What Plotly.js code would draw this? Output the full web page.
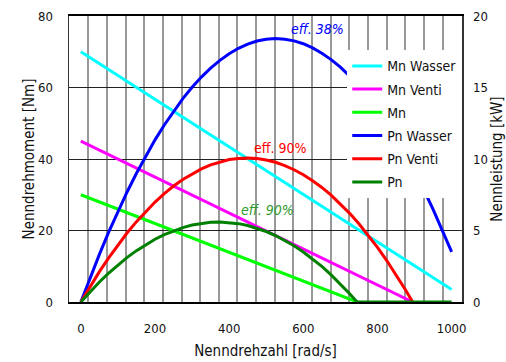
<!DOCTYPE html>
<html>
<head>
<meta charset="utf-8">
<script src="https://cdn.plot.ly/plotly-3.0.1.min.js"></script>
<style>html,body{margin:0;padding:0;background:#fff;}#chart{width:506px;height:362px;}</style>
</head>
<body>
<div id="chart"></div>
<script>
// Speeds (rad/s) and values
const mnWasserX = [0, 1000];
const mnWasserY = [70, 3.5];
const mnVentiX = [0, 895];
const mnVentiY = [45, 0];
const mnX = [0, 745];
const mnY = [30, 0];

const pnWasserX = [0, 25, 50, 75, 100, 125, 150, 175, 200, 225, 250, 275, 300, 325, 350, 375, 400, 425, 450, 475, 500,
  525, 550, 575, 600, 625, 650, 675, 700, 725, 750, 775, 800, 825, 850, 875, 900, 925, 950, 975, 1000];
const pnWasserY = [0, 1.71, 3.33, 4.88, 6.34, 7.71, 9.00, 10.21, 11.34, 12.38, 13.34, 14.22, 15.02, 15.73, 16.35, 16.90, 17.36, 17.74, 18.03, 18.25, 18.38,
  18.42, 18.38, 18.26, 18.06, 17.77, 17.40, 16.95, 16.42, 15.80, 15.09, 14.31, 13.44, 12.49, 11.45, 10.34, 9.14, 7.85, 6.48, 5.03, 3.50];

const pnVentiX = [0, 25, 50, 75, 100, 125, 150, 175, 200, 225, 250, 275, 300, 325, 350, 375, 400, 425, 450, 475, 500,
  525, 550, 575, 600, 625, 650, 675, 700, 725, 750, 775, 800, 825, 850, 875, 895];
const pnVentiY = [0, 1.09, 2.12, 3.09, 4.00, 4.84, 5.62, 6.34, 6.99, 7.58, 8.11, 8.57, 8.97, 9.31, 9.59, 9.80, 9.96, 10.04, 10.07, 10.03, 9.93,
  9.77, 9.54, 9.25, 8.90, 8.48, 8.01, 7.47, 6.86, 6.20, 5.47, 4.68, 3.82, 2.90, 1.92, 0.88, 0];

const pnX = [0, 25, 50, 75, 100, 125, 150, 175, 200, 225, 250, 275, 300, 325, 350, 375, 400, 425, 450, 475, 500,
  525, 550, 575, 600, 625, 650, 675, 700, 725, 745, 1000];
const pnY = [0, 0.72, 1.40, 2.02, 2.60, 3.12, 3.59, 4.02, 4.39, 4.71, 4.98, 5.20, 5.38, 5.50, 5.57, 5.59, 5.56, 5.48, 5.35, 5.16, 4.93,
  4.65, 4.32, 3.94, 3.50, 3.02, 2.49, 1.90, 1.27, 0.58, 0, 0];

const xTicks = [0, 200, 400, 600, 800, 1000];
const yLeftTicks = [0, 20, 40, 60, 80];
const yRightTicks = [0, 5, 10, 15, 20];

const effLabels = ['<i>eff. 38%</i>', 'eff. 90%', '<i>eff. 90%</i>'];
const effX = [637, 537, 504];
const effY = [76.4, 43.2, 25.7];
const effColors = ['#0000ff', '#ff0000', '#2e9a2e'];

const FONT = '"Liberation Sans Narrow", "DejaVu Sans Condensed", Arial, sans-serif';

function tr(name, x, y, color, axis, group) {
  return {
    type: 'scatter', mode: 'lines', name: name, x: x, y: y,
    yaxis: axis, legendgroup: group,
    line: {color: color, width: 3}
  };
}

const data = [
  tr('Mn Wasser', mnWasserX, mnWasserY, '#00ffff', 'y', 'a'),
  tr('Mn Venti', mnVentiX, mnVentiY, '#ff00ff', 'y', 'b'),
  tr('Mn', mnX, mnY, '#00ff00', 'y', 'c'),
  tr('Pn Wasser', pnWasserX, pnWasserY, '#0000ff', 'y2', 'd'),
  tr('Pn Venti', pnVentiX, pnVentiY, '#ff0000', 'y2', 'e'),
  tr('Pn', pnX, pnY, '#008000', 'y2', 'f')
];

const annotations = effLabels.map((t, i) => ({
  text: t, x: effX[i], y: effY[i], xref: 'x', yref: 'y', showarrow: false,
  font: {family: FONT, size: 14, color: effColors[i]}
}));

const layout = {
  width: 506, height: 362,
  margin: {l: 69, r: 44, t: 16, b: 60},
  paper_bgcolor: '#ffffff', plot_bgcolor: '#ffffff',
  font: {family: FONT, size: 13, color: '#111'},
  showlegend: true,
  legend: {
    x: 0.708, y: 0.88, xanchor: 'left', yanchor: 'top',
    bgcolor: '#ffffff', borderwidth: 0,
    font: {family: FONT, size: 14, color: '#111'},
    tracegroupgap: 2, itemwidth: 30
  },
  xaxis: {
    range: [-32, 1028], tickvals: xTicks, ticktext: xTicks.map(String),
    showgrid: false, zeroline: false,
    showline: true, linecolor: '#000', linewidth: 2, mirror: true,
    ticks: '', ticklabelstandoff: 13,
    minor: {tick0: 20, dtick: 50.3, showgrid: true, gridcolor: '#999', gridwidth: 2, ticks: ''},
    title: {text: 'Nenndrehzahl [rad/s]', standoff: 11, font: {family: FONT, size: 15}}
  },
  yaxis: {
    range: [0, 80], tickvals: yLeftTicks,
    showgrid: true, gridcolor: '#222', gridwidth: 1, zeroline: false,
    showline: true, linecolor: '#333', linewidth: 1.5,
    ticks: '', ticklabelstandoff: 12,
    title: {text: 'Nenndrehmoment [Nm]', standoff: 0, font: {family: FONT, size: 15}}
  },
  yaxis2: {
    overlaying: 'y', side: 'right', range: [0, 20], tickvals: yRightTicks,
    showgrid: false, zeroline: false,
    showline: true, linecolor: '#333', linewidth: 1.5,
    ticks: 'inside', ticklen: 3, tickcolor: '#333', ticklabelstandoff: 7,
    title: {text: 'Nennleistung [kW]', standoff: 4, font: {family: FONT, size: 15}}
  },
  annotations: annotations
};

Plotly.newPlot('chart', data, layout, {displayModeBar: false, staticPlot: true});
</script>
</body>
</html>
